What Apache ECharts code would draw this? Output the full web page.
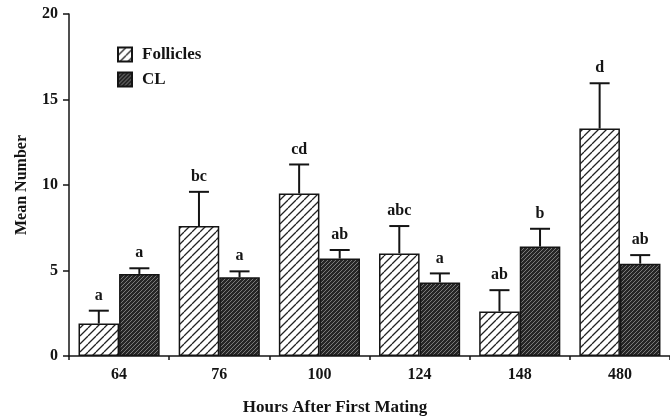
<!DOCTYPE html>
<html><head><meta charset="utf-8">
<script src="https://cdn.jsdelivr.net/npm/echarts@6/dist/echarts.min.js"></script>
<style>html,body{margin:0;padding:0;background:#fff}#c{width:670px;height:420px}</style>
</head><body><div id="c"></div>
<script>
const categories = ['64','76','100','124','148','480'];
const follicles = [1.9, 7.6, 9.5, 6.0, 2.6, 13.3];
const follErr = [0.75, 2.0, 1.7, 1.6, 1.25, 2.65];
const follLetters = ['a','bc','cd','abc','ab','d'];
const cl = [4.8, 4.6, 5.7, 4.3, 6.4, 5.4];
const clErr = [0.33, 0.35, 0.5, 0.53, 1.04, 0.5];
const clLetters = ['a','a','ab','a','b','ab'];
const yTicks = [0, 5, 10, 15, 20];

const FONT = '"Liberation Serif", "DejaVu Serif", serif';
const INK = '#141414';
const GAP = 0.19;

function hatch(bg, fg, p, lw) {
  const c = document.createElement('canvas');
  c.width = p; c.height = p;
  const g = c.getContext('2d');
  g.fillStyle = bg; g.fillRect(0, 0, p, p);
  g.strokeStyle = fg; g.lineWidth = lw;
  g.beginPath();
  for (const k of [-p, 0, p]) { g.moveTo(k, p); g.lineTo(k + p, 0); }
  g.stroke();
  return c;
}
const follPat = { image: hatch('#ffffff', '#222222', 8, 1.3), repeat: 'repeat' };
const clPat = { image: hatch('#262626', '#7a7a7a', 4, 1), repeat: 'repeat' };

function errSeries(means, errs, letters, sign) {
  return {
    type: 'custom',
    z: 5,
    silent: true,
    data: means.map((m, i) => [i, m, errs[i]]),
    renderItem: function (params, api) {
      const i = api.value(0), m = api.value(1), e = api.value(2);
      const base = api.coord([i, m]);
      const top = api.coord([i, m + e]);
      const band = api.size([1, 0])[0];
      const bw = band * (1 - GAP) / 2;
      const cx = base[0] + sign * bw / 2;
      const cap = 10;
      return {
        type: 'group',
        children: [
          { type: 'line', shape: { x1: cx, y1: base[1], x2: cx, y2: top[1] }, style: { stroke: INK, lineWidth: 2 } },
          { type: 'line', shape: { x1: cx - cap, y1: top[1], x2: cx + cap, y2: top[1] }, style: { stroke: INK, lineWidth: 2 } },
          { type: 'text', x: cx, y: top[1] - 7, style: { text: letters[params.dataIndex], fill: INK, font: 'bold 16px ' + FONT, align: 'center', verticalAlign: 'bottom' } }
        ]
      };
    }
  };
}

const chart = echarts.init(document.getElementById('c'), null, { renderer: 'canvas' });
chart.setOption({
  animation: false,
  backgroundColor: '#fff',
  grid: { left: 69, right: -4, top: 14, bottom: 64, containLabel: false },
  legend: {
    orient: 'vertical', left: 112, top: 41, itemWidth: 14, itemHeight: 14, itemGap: 8,
    icon: 'rect',
    textStyle: { fontFamily: FONT, fontWeight: 'bold', fontSize: 17, color: INK, padding: [0, 0, 0, 5] },
    data: ['Follicles', 'CL']
  },
  xAxis: {
    type: 'category', data: categories,
    axisLine: { lineStyle: { color: INK, width: 1.5 } },
    axisTick: { show: true, length: 4, lineStyle: { color: INK, width: 1.5 } },
    axisLabel: { margin: 11, fontFamily: FONT, fontWeight: 'bold', fontSize: 16, color: INK },
    splitLine: { show: false }
  },
  yAxis: {
    type: 'value', min: yTicks[0], max: yTicks[yTicks.length - 1], interval: 5,
    axisLine: { show: true, lineStyle: { color: INK, width: 1.5 } },
    axisTick: { show: true, length: 6, lineStyle: { color: INK, width: 1.5 } },
    axisLabel: { margin: 11, fontFamily: FONT, fontWeight: 'bold', fontSize: 16, color: INK },
    splitLine: { show: false }
  },
  graphic: [
    { type: 'text', x: 22, y: 185, rotation: Math.PI / 2, style: { text: 'Mean Number', font: 'bold 16px ' + FONT, fill: INK, align: 'center', verticalAlign: 'middle' } },
    { type: 'text', x: 335, y: 408, style: { text: 'Hours After First Mating', font: 'bold 17px ' + FONT, fill: INK, align: 'center', verticalAlign: 'middle' } }
  ],
  series: [
    { name: 'Follicles', type: 'bar', data: follicles, barGap: '0%', barCategoryGap: (GAP * 100) + '%',
      itemStyle: { color: follPat, borderColor: INK, borderWidth: 1.5 } },
    { name: 'CL', type: 'bar', data: cl, barGap: '0%', barCategoryGap: (GAP * 100) + '%',
      itemStyle: { color: clPat, borderColor: INK, borderWidth: 1.5 } },
    errSeries(follicles, follErr, follLetters, -1),
    errSeries(cl, clErr, clLetters, 1)
  ]
});
</script></body></html>
